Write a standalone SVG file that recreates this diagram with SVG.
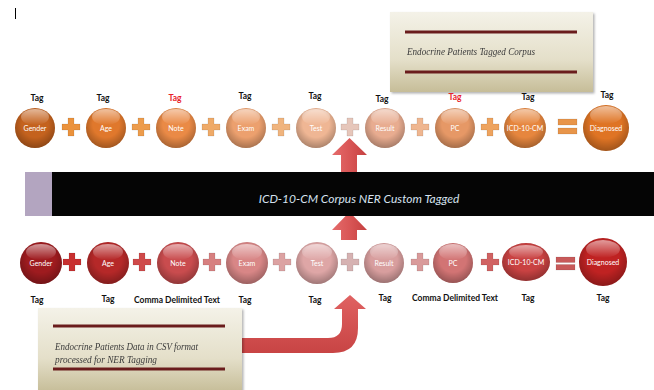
<svg xmlns="http://www.w3.org/2000/svg" xmlns:xlink="http://www.w3.org/1999/xlink" width="654" height="390" viewBox="0 0 654 390">
<style>
.lbl{font-family:Lato,"Open Sans","Liberation Sans",sans-serif;font-size:7px;fill:#ffffff;text-anchor:middle}
.tag{font-family:Lato,"Liberation Sans",sans-serif;font-size:8.5px;font-weight:bold;fill:#111111;text-anchor:middle}
.red{fill:#e8202a}
.shade{fill:url(#shade)}
.gloss{fill:url(#gloss)}
.boxtxt{font-family:"Liberation Serif","DejaVu Serif",serif;font-style:italic;font-size:10px;fill:#3a3a3a}
.bartxt{font-family:Lato,"Open Sans","Liberation Sans",sans-serif;font-style:italic;font-size:12px;fill:#d6e2ef;text-anchor:middle}
.rule{stroke:#6b1e1e;stroke-width:3}
.op{stroke:rgba(0,0,0,0.15);stroke-width:0.6}
</style>
<defs>
<radialGradient id="shade" cx="0.5" cy="0.4" r="0.6">
<stop offset="0.55" stop-color="#000" stop-opacity="0"/>
<stop offset="1" stop-color="#000" stop-opacity="0.28"/>
</radialGradient>
<linearGradient id="gloss" x1="0" y1="0" x2="0" y2="1">
<stop offset="0" stop-color="#fff" stop-opacity="0.55"/>
<stop offset="1" stop-color="#fff" stop-opacity="0"/>
</linearGradient>
<linearGradient id="box" x1="0" y1="0" x2="0" y2="1">
<stop offset="0" stop-color="#f4f2e8"/>
<stop offset="0.6" stop-color="#e4dfc9"/>
<stop offset="1" stop-color="#c6bd98"/>
</linearGradient>
<linearGradient id="arrow" x1="0" y1="0" x2="1" y2="0">
<stop offset="0" stop-color="#e56c6c"/>
<stop offset="0.5" stop-color="#d95656"/>
<stop offset="1" stop-color="#c54040"/>
</linearGradient>
<linearGradient id="arrowV" x1="0" y1="0" x2="0" y2="1">
<stop offset="0" stop-color="#e06262"/>
<stop offset="1" stop-color="#c84444"/>
</linearGradient>
<path id="plus" d="M-3,-9h6v6h6v6h-6v6h-6v-6h-6v-6h6z"/>
<filter id="sh" x="-10%" y="-10%" width="130%" height="130%">
<feDropShadow dx="1.5" dy="1.5" stdDeviation="1.2" flood-color="#000" flood-opacity="0.3"/>
</filter>
</defs>

<line x1="15.5" y1="8" x2="15.5" y2="19" stroke="#000" stroke-width="1"/>

<g id="corpus-box" filter="url(#sh)">
<rect x="390" y="12" width="203" height="80" fill="url(#box)"/>
<line class="rule" x1="405" y1="32" x2="577" y2="32"/>
<line class="rule" x1="405" y1="72" x2="577" y2="72"/>
<text class="boxtxt" x="407" y="55" textLength="128" lengthAdjust="spacingAndGlyphs">Endocrine Patients Tagged Corpus</text>
</g>

<g id="connectors">
<path d="M341,172 V155 H332 L349.5,138 L367,155 H357 V172 Z" fill="url(#arrow)"/>
<path d="M341,240 V230 H332 L349.5,212 L367,230 H357 V240 Z" fill="url(#arrow)"/>
<path d="M237,338 H328 Q342,338 342,324 V309 H334 L350,295 L366,309 H358 V328 Q358,353 333,353 H237 Z" fill="url(#arrowV)"/>
</g>

<g id="bar">
<rect x="25" y="172" width="629" height="44" fill="#050505"/>
<rect x="25" y="172" width="27" height="44" fill="#b3a5c0"/>
<text class="bartxt" x="359" y="203">ICD-10-CM Corpus NER Custom Tagged</text>
</g>

<g id="top-operators" class="op">
<use href="#plus" x="71" y="127" fill="#eb923c"/>
<use href="#plus" x="141" y="127" fill="#ed9c4c"/>
<use href="#plus" x="211" y="127" fill="#efaa68"/>
<use href="#plus" x="281" y="127" fill="#f0b47e"/>
<use href="#plus" x="350" y="127" fill="#e6c6ba"/>
<use href="#plus" x="420" y="127" fill="#efb690"/>
<use href="#plus" x="490" y="127" fill="#eea35e"/>
<rect x="558" y="119" width="19" height="6" fill="#e8954a"/>
<rect x="558" y="128" width="19" height="6" fill="#e8954a"/>
</g>

<g id="top-gender"><circle cx="35" cy="128" r="20" fill="#c4621e"/><circle cx="35" cy="128" r="20" class="shade"/><ellipse cx="35" cy="117" rx="14" ry="8" class="gloss"/><text class="lbl" x="35" y="130.5">Gender</text><text class="tag" x="37" y="101">Tag</text></g>
<g id="top-age"><circle cx="106" cy="128" r="20" fill="#e0782c"/><circle cx="106" cy="128" r="20" class="shade"/><ellipse cx="106" cy="117" rx="14" ry="8" class="gloss"/><text class="lbl" x="106" y="130.5">Age</text><text class="tag" x="103" y="101">Tag</text></g>
<g id="top-note"><circle cx="176" cy="128" r="20" fill="#ea8a46"/><circle cx="176" cy="128" r="20" class="shade"/><ellipse cx="176" cy="117" rx="14" ry="8" class="gloss"/><text class="lbl" x="176" y="130.5">Note</text><text class="tag red" x="175" y="101">Tag</text></g>
<g id="top-exam"><circle cx="246" cy="128" r="20" fill="#eca06e"/><circle cx="246" cy="128" r="20" class="shade"/><ellipse cx="246" cy="117" rx="14" ry="8" class="gloss"/><text class="lbl" x="246" y="130.5">Exam</text><text class="tag" x="245" y="99">Tag</text></g>
<g id="top-test"><circle cx="316" cy="128" r="20" fill="#efb694"/><circle cx="316" cy="128" r="20" class="shade"/><ellipse cx="316" cy="117" rx="14" ry="8" class="gloss"/><text class="lbl" x="316" y="130.5">Test</text><text class="tag" x="315" y="99">Tag</text></g>
<g id="top-result"><circle cx="385" cy="128" r="20" fill="#e8ac90"/><circle cx="385" cy="128" r="20" class="shade"/><ellipse cx="385" cy="117" rx="14" ry="8" class="gloss"/><text class="lbl" x="385" y="130.5">Result</text><text class="tag" x="382" y="102">Tag</text></g>
<g id="top-pc"><circle cx="455" cy="128" r="20" fill="#e69866"/><circle cx="455" cy="128" r="20" class="shade"/><ellipse cx="455" cy="117" rx="14" ry="8" class="gloss"/><text class="lbl" x="455" y="130.5">PC</text><text class="tag red" x="455" y="100">Tag</text></g>
<g id="top-icd"><ellipse cx="525" cy="128" rx="21" ry="20" fill="#e6863e"/><ellipse cx="525" cy="128" rx="21" ry="20" class="shade"/><ellipse cx="525" cy="117" rx="15" ry="8" class="gloss"/><text class="lbl" x="525" y="130.5">ICD-10-CM</text><text class="tag" x="528" y="100">Tag</text></g>
<g id="top-diagnosed"><circle cx="606" cy="128" r="23" fill="#df7424"/><circle cx="606" cy="128" r="23" class="shade"/><ellipse cx="606" cy="115" rx="16" ry="9" class="gloss"/><text class="lbl" x="606" y="130.5">Diagnosed</text><text class="tag" x="607" y="98">Tag</text></g>

<g id="bottom-operators" class="op">
<use href="#plus" x="72" y="262" fill="#c83030"/>
<use href="#plus" x="142" y="262" fill="#cf4a4a"/>
<use href="#plus" x="212" y="262" fill="#d78080"/>
<use href="#plus" x="282" y="262" fill="#dca2a2"/>
<use href="#plus" x="350" y="262" fill="#d6b2b2"/>
<use href="#plus" x="420" y="262" fill="#d99a9a"/>
<use href="#plus" x="490" y="262" fill="#d06262"/>
<rect x="556" y="257" width="19" height="5.5" fill="#c85a5a"/>
<rect x="556" y="264.5" width="19" height="5.5" fill="#c85a5a"/>
</g>

<g id="bottom-gender"><circle cx="41" cy="263" r="21" fill="#9e1b1f"/><circle cx="41" cy="263" r="21" class="shade"/><ellipse cx="41" cy="252" rx="15" ry="8" class="gloss"/><text class="lbl" x="41" y="265.5">Gender</text><text class="tag" x="37" y="303">Tag</text></g>
<g id="bottom-age"><circle cx="108" cy="263" r="21" fill="#b52828"/><circle cx="108" cy="263" r="21" class="shade"/><ellipse cx="108" cy="252" rx="15" ry="8" class="gloss"/><text class="lbl" x="108" y="265.5">Age</text><text class="tag" x="108" y="302">Tag</text></g>
<g id="bottom-note"><circle cx="178" cy="263" r="21" fill="#c94c4e"/><circle cx="178" cy="263" r="21" class="shade"/><ellipse cx="178" cy="252" rx="15" ry="8" class="gloss"/><text class="lbl" x="178" y="265.5">Note</text><text class="tag" x="177" y="303">Comma Delimited Text</text></g>
<g id="bottom-exam"><circle cx="247" cy="263" r="21" fill="#d88686"/><circle cx="247" cy="263" r="21" class="shade"/><ellipse cx="247" cy="252" rx="15" ry="8" class="gloss"/><text class="lbl" x="247" y="265.5">Exam</text><text class="tag" x="245" y="303">Tag</text></g>
<g id="bottom-test"><circle cx="317" cy="263" r="21" fill="#dea6a6"/><circle cx="317" cy="263" r="21" class="shade"/><ellipse cx="317" cy="252" rx="15" ry="8" class="gloss"/><text class="lbl" x="317" y="265.5">Test</text><text class="tag" x="315" y="303">Tag</text></g>
<g id="bottom-result"><circle cx="384" cy="263" r="20" fill="#d89e9e"/><circle cx="384" cy="263" r="20" class="shade"/><ellipse cx="384" cy="252" rx="14" ry="8" class="gloss"/><text class="lbl" x="384" y="265.5">Result</text><text class="tag" x="385" y="301">Tag</text></g>
<g id="bottom-pc"><circle cx="453" cy="263" r="20" fill="#d27474"/><circle cx="453" cy="263" r="20" class="shade"/><ellipse cx="453" cy="252" rx="14" ry="8" class="gloss"/><text class="lbl" x="453" y="265.5">PC</text><text class="tag" x="455" y="301">Comma Delimited Text</text></g>
<g id="bottom-icd"><ellipse cx="526" cy="262" rx="24" ry="19" fill="#c94242"/><ellipse cx="526" cy="262" rx="24" ry="19" class="shade"/><ellipse cx="526" cy="252" rx="17" ry="7" class="gloss"/><text class="lbl" x="526" y="264.5">ICD-10-CM</text><text class="tag" x="528" y="301">Tag</text></g>
<g id="bottom-diagnosed"><circle cx="603" cy="262" r="24" fill="#bf2222"/><circle cx="603" cy="262" r="24" class="shade"/><ellipse cx="603" cy="249" rx="17" ry="9" class="gloss"/><text class="lbl" x="603" y="264.5">Diagnosed</text><text class="tag" x="603" y="301">Tag</text></g>

<g id="data-box" filter="url(#sh)">
<rect x="38" y="308" width="204" height="84" fill="url(#box)"/>
<line class="rule" x1="53" y1="326" x2="225" y2="326"/>
<line class="rule" x1="53" y1="369" x2="225" y2="369"/>
<text class="boxtxt" x="55" y="349.5" textLength="143" lengthAdjust="spacingAndGlyphs">Endocrine Patients Data in CSV format</text>
<text class="boxtxt" x="55" y="362.5" textLength="102" lengthAdjust="spacingAndGlyphs">processed for NER Tagging</text>
</g>
</svg>
